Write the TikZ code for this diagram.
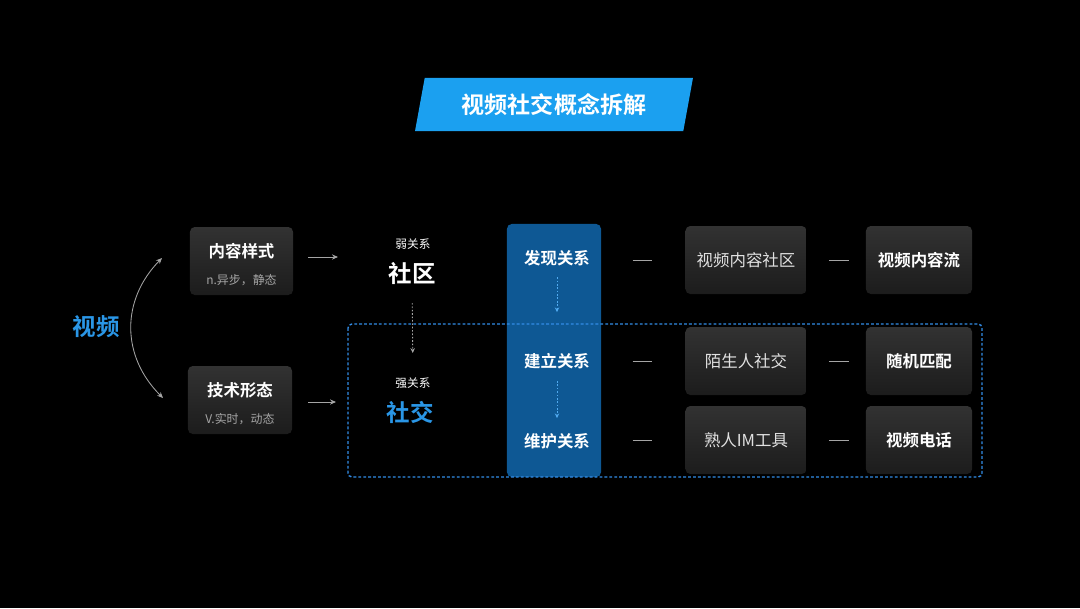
\documentclass[tikz,border=0pt]{standalone}
\usepackage{fontspec}
\setmainfont{Noto Sans CJK SC}[BoldFont={Noto Sans CJK SC Bold}]
\usepackage{xcolor}
\usetikzlibrary{arrows.meta, positioning, shapes.geometric}
\definecolor{titleblue}{RGB}{27,160,240}
\definecolor{myblue}{RGB}{42,150,230}
\definecolor{colblue}{RGB}{14,88,148}
\definecolor{dashblue}{RGB}{50,140,230}
\definecolor{tipblue}{RGB}{80,170,240}
\definecolor{boxtop}{RGB}{50,50,50}
\definecolor{boxbot}{RGB}{28,28,28}
\definecolor{mygray}{RGB}{165,165,165}
\definecolor{softwhite}{RGB}{225,225,225}

\tikzset{
  card/.style={rounded corners=0.12cm, top color=boxtop, bottom color=boxbot,
               minimum height=1.7cm, align=center, text=white, inner sep=0pt},
  arr/.style={-{Stealth[length=1.5mm, width=1.3mm]}, mygray, line width=0.6pt},
  dotarr/.style={-{Stealth[length=1.2mm, width=1.1mm]}, line width=0.6pt,
                 dash pattern=on 1.2pt off 1.2pt},
  link/.style={mygray, line width=0.6pt},
  relname/.style={minimum width=2.35cm, text=white,
                  font=\bfseries\fontsize{11.7}{14}\selectfont},
}

\begin{document}
\begin{tikzpicture}[x=0.025cm, y=-0.025cm]
  \fill[black] (0,0) rectangle (1080,608);
  \useasboundingbox (0,0) rectangle (1080,608);

  % title
  \node[trapezium, trapezium left angle=77, trapezium right angle=103,
        trapezium stretches=true, fill=titleblue, minimum width=6.95cm,
        minimum height=1.33cm, text=white,
        font=\bfseries\fontsize{16.4}{18}\selectfont]
        (title) at (554,104.5) {视频社交概念拆解};

  % left part
  \node[text=myblue, font=\bfseries\fontsize{16.7}{18}\selectfont]
        (video) at (96,327) {视频};
  \node[card, minimum width=2.575cm] (form) at (241.5,261)
        {\bfseries\fontsize{11.7}{14}\selectfont\rule{0pt}{15.5pt}内容样式\\[7.5pt]
         {\color{mygray}\mdseries\fontsize{8.5}{10}\selectfont n.异步，静态}};
  \node[card, minimum width=2.6cm] (tech) at (240,400)
        {\bfseries\fontsize{11.7}{14}\selectfont\rule{0pt}{15.5pt}技术形态\\[7.5pt]
         {\color{mygray}\mdseries\fontsize{8.5}{10}\selectfont V.实时，动态}};
  \coordinate (vtop) at (162,258);
  \coordinate (vbot) at (163,398);
  \draw[arr, {Stealth[length=1.5mm, width=1.3mm]}-{Stealth[length=1.5mm, width=1.3mm]}]
        (vtop) .. controls (121,300) and (121,356) .. (vbot);

  \node[text=white, font=\bfseries\fontsize{16.7}{18}\selectfont]
        (comm) at (412,273) {社区};
  \node[text=white, font=\fontsize{8.3}{10}\selectfont] (weak) at (413,244) {弱关系};
  \node[text=myblue, font=\bfseries\fontsize{16.7}{18}\selectfont]
        (social) at (410,412) {社交};
  \node[text=white, font=\fontsize{8.3}{10}\selectfont] (strong) at (413,383) {强关系};
  \coordinate (a1) at (338,257);
  \coordinate (a2) at (336,402);
  \draw[arr, shorten <=0.375cm] (form.east |- a1) -- (a1);
  \draw[arr, shorten <=0.4cm] (tech.east |- a2) -- (a2);
  \draw[dotarr, mygray, shorten <=0.75cm, shorten >=0.75cm]
        (comm.center) -- (strong.center);

  % relation column
  \node[fill=colblue, rounded corners=0.12cm, minimum width=2.35cm,
        minimum height=6.325cm] (column) at (554,350.5) {};
  \node[relname] (find) at (557,258) {发现关系};
  \node[relname] (build) at (557,361) {建立关系};
  \node[relname] (keep) at (557,441) {维护关系};
  \draw[dotarr, tipblue, shorten <=0.48cm, shorten >=1.22cm]
        (find.center) -- (build.center);
  \draw[dotarr, tipblue, shorten <=0.5cm, shorten >=0.57cm]
        (build.center) -- (keep.center);

  % strong relation frame
  \draw[dashblue, line width=1pt, dash pattern=on 2pt off 1.5pt,
        rounded corners=0.1cm] (348,324) rectangle (982,477);

  % products
  \node[card, minimum width=3.025cm, text=softwhite,
        font=\fontsize{11.7}{14}\selectfont] (place1) at (746,260) {视频内容社区};
  \node[card, minimum width=3.025cm, text=softwhite,
        font=\fontsize{11.7}{14}\selectfont] (place2) at (746,361) {陌生人社交};
  \node[card, minimum width=3.025cm, text=softwhite,
        font=\fontsize{11.7}{14}\selectfont] (place3) at (746,440) {熟人IM工具};
  \node[card, minimum width=2.65cm,
        font=\bfseries\fontsize{11.7}{14}\selectfont] (form1) at (919,260) {视频内容流};
  \node[card, minimum width=2.65cm,
        font=\bfseries\fontsize{11.7}{14}\selectfont] (form2) at (919,361) {随机匹配};
  \node[card, minimum width=2.65cm,
        font=\bfseries\fontsize{11.7}{14}\selectfont] (form3) at (919,440) {视频电话};

  \foreach \rel/\n in {find/1, build/2, keep/3}{
    \draw[link, shorten <=0.71cm, shorten >=0.83cm] (\rel.east |- place\n.west) -- (place\n.west);
    \draw[link, shorten <=0.55cm, shorten >=0.43cm] (place\n.east) -- (form\n.west);
  }
\end{tikzpicture}
\end{document}
